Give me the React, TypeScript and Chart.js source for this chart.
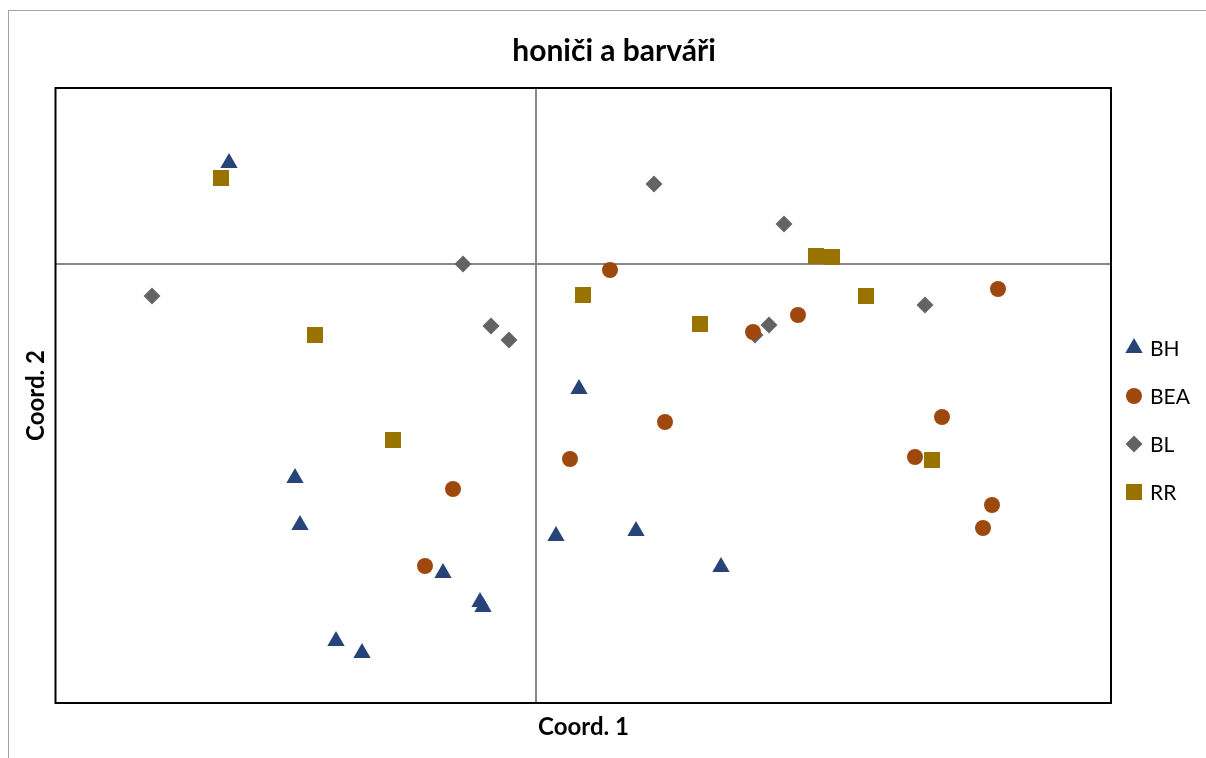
import React, { useEffect, useRef } from "react";
import { Chart, registerables } from "chart.js";
import { drawPoint } from "chart.js/helpers";

Chart.register(...registerables);

// ---- data (Coord. 1, Coord. 2) ----
const seriesNames = ["BH", "BEA", "BL", "RR"];

const bhX = [-0.307, 0.043, -0.241, -0.236, -0.093, -0.056, -0.053, -0.2, -0.174, 0.02, 0.1, 0.185];
const bhY = [0.101, -0.125, -0.214, -0.261, -0.309, -0.338, -0.343, -0.377, -0.389, -0.272, -0.267, -0.303];

const beaX = [0.074, 0.462, 0.262, 0.217, 0.129, 0.406, 0.034, 0.379, 0.456, 0.447, -0.083, -0.111];
const beaY = [-0.006, -0.025, -0.051, -0.068, -0.158, -0.153, -0.195, -0.193, -0.241, -0.264, -0.225, -0.302];

const blX = [-0.073, -0.384, -0.045, -0.027, 0.118, 0.248, 0.389, 0.233, 0.219];
const blY = [0.0, -0.032, -0.062, -0.076, 0.08, 0.04, -0.041, -0.061, -0.071];

const rrX = [-0.315, -0.221, -0.143, 0.28, 0.296, 0.047, 0.33, 0.164, 0.396];
const rrY = [0.086, -0.071, -0.176, 0.008, 0.007, -0.031, -0.032, -0.06, -0.196];

const xRange = [-0.48, 0.575];
const yRange = [-0.439, 0.176];

const titleText = "honiči a barváři";
const xTitle = "Coord. 1";
const yTitle = "Coord. 2";

const toPoints = (xs: number[], ys: number[]) => xs.map((x, i) => ({ x, y: ys[i] }));

const FONT = "Lato, 'Open Sans', sans-serif";

const framePlugin = {
  id: "excelFrame",
  beforeDraw(chart: any) {
    const ctx = chart.ctx;
    ctx.save();
    ctx.strokeStyle = "#a3a3a3";
    ctx.lineWidth = 1;
    ctx.strokeRect(8.5, 10.5, 1211, 800);
    ctx.restore();
  },
  afterDraw(chart: any) {
    const ctx = chart.ctx;
    const a = chart.chartArea;
    ctx.save();
    ctx.strokeStyle = "#000000";
    ctx.lineWidth = 2;
    ctx.strokeRect(a.left - 0.5, a.top, a.right - a.left + 0.5, a.bottom - a.top);
    ctx.restore();

    // legend
    const spacing = 48;
    const n = chart.data.datasets.length;
    const cy0 = (a.top + a.bottom) / 2 + 24.5 - ((n - 1) / 2) * spacing;
    chart.data.datasets.forEach((ds: any, i: number) => {
      const cy = cy0 + i * spacing;
      const cx = a.right + 23;
      ctx.save();
      ctx.fillStyle = ds.backgroundColor;
      ctx.strokeStyle = ds.borderColor;
      drawPoint(ctx, { pointStyle: ds.pointStyle, radius: ds.pointRadius, rotation: 0, borderWidth: 0 }, cx, cy);
      ctx.fillStyle = "#000000";
      ctx.font = `21px ${FONT}`;
      ctx.textBaseline = "middle";
      ctx.textAlign = "left";
      ctx.fillText(ds.label, a.right + 39, cy + 1);
      ctx.restore();
    });
  },
};

export default function App() {
  const ref = useRef<HTMLCanvasElement | null>(null);

  useEffect(() => {
    if (!ref.current) return;
    const zeroColor = (c: any) => (c.tick && c.tick.value === 0 ? "#888888" : "rgba(0,0,0,0)");
    const chart = new Chart(ref.current, {
      type: "scatter",
      data: {
        datasets: [
          {
            label: seriesNames[0],
            data: toPoints(bhX, bhY),
            pointStyle: "triangle",
            pointRadius: 10,
            backgroundColor: "#264478",
            borderColor: "#264478",
            pointBorderWidth: 0,
          },
          {
            label: seriesNames[1],
            data: toPoints(beaX, beaY),
            pointStyle: "circle",
            pointRadius: 8,
            backgroundColor: "#9e480e",
            borderColor: "#9e480e",
            pointBorderWidth: 0,
          },
          {
            label: seriesNames[2],
            data: toPoints(blX, blY),
            pointStyle: "rectRot",
            pointRadius: 8.5,
            backgroundColor: "#636363",
            borderColor: "#636363",
            pointBorderWidth: 0,
          },
          {
            label: seriesNames[3],
            data: toPoints(rrX, rrY),
            pointStyle: "rect",
            pointRadius: 11.3,
            backgroundColor: "#997300",
            borderColor: "#997300",
            pointBorderWidth: 0,
          },
        ] as any,
      },
      options: {
        animation: false,
        responsive: false,
        events: [],
        layout: { padding: { left: 8, right: 8, top: 33, bottom: 24.6 } },
        plugins: {
          legend: { display: false },
          tooltip: { enabled: false },
          title: {
            display: true,
            text: titleText,
            color: "#000000",
            font: { family: FONT, size: 30, weight: "bold" },
            padding: { top: 0, bottom: 19 },
          },
        },
        scales: {
          x: {
            type: "linear",
            min: xRange[0],
            max: xRange[1],
            ticks: { display: false, stepSize: 0.1 },
            grid: { display: true, drawTicks: false, color: zeroColor, lineWidth: 2 },
            border: { display: false },
            title: {
              display: true,
              text: xTitle,
              color: "#000000",
              font: { family: FONT, size: 24, weight: "bold" },
              padding: { top: 9.6, bottom: 4 },
            },
          },
          y: {
            type: "linear",
            min: yRange[0],
            max: yRange[1],
            ticks: { display: false, stepSize: 0.1 },
            grid: { display: true, drawTicks: false, color: zeroColor, lineWidth: 2 },
            border: { display: false },
            title: {
              display: true,
              text: yTitle,
              color: "#000000",
              font: { family: FONT, size: 24, weight: "bold" },
              padding: { top: 13.6, bottom: 5.6 },
            },
          },
          legendSpace: {
            type: "linear",
            position: "right",
            display: true,
            ticks: { display: false },
            grid: { display: false, drawTicks: false },
            border: { display: false },
            afterFit: (s: any) => {
              s.width = 109;
            },
          },
        },
      } as any,
      plugins: [framePlugin],
    });
    return () => chart.destroy();
  }, []);

  return (
    <div style={{ position: "absolute", left: 0, top: 0, width: 1206, height: 758, overflow: "hidden", background: "#fff" }}>
      <canvas ref={ref} width={1228} height={770} style={{ width: 1228, height: 770, display: "block" }} />
    </div>
  );
}
